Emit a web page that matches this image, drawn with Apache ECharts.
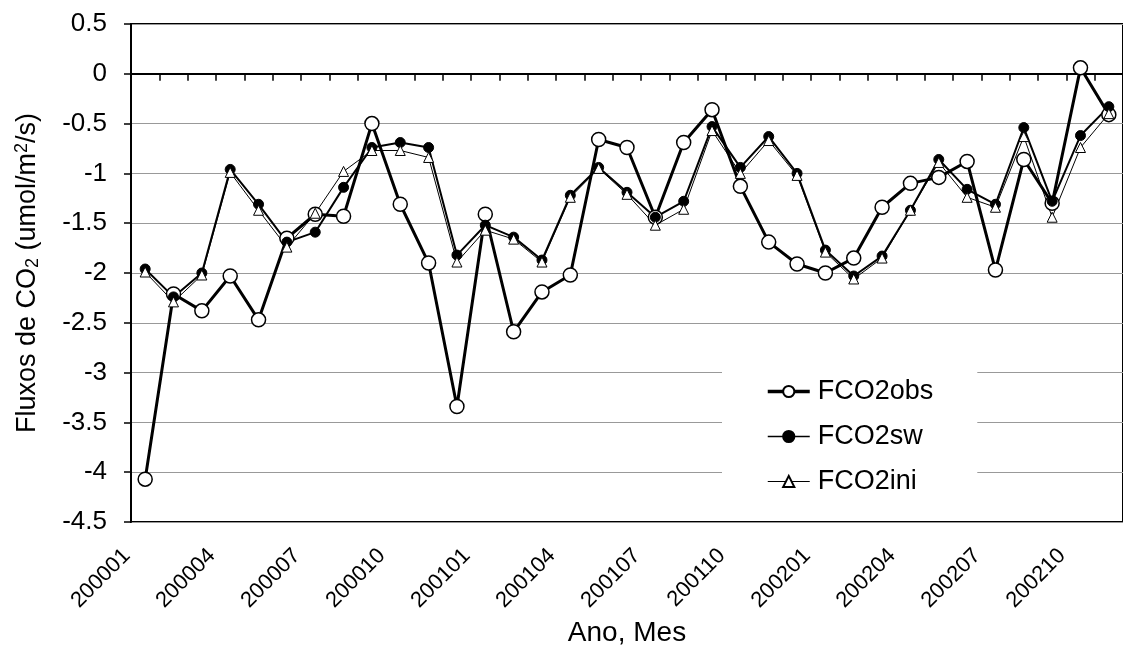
<!DOCTYPE html>
<html>
<head>
<meta charset="utf-8">
<script src="https://cdn.jsdelivr.net/npm/echarts@6/dist/echarts.min.js"></script>
<style>
html, body { margin: 0; padding: 0; background: #fff; }
#main { width: 1123px; height: 659px; }
</style>
</head>
<body>
<div id="main"></div>
<script>
var meses = ['200001','200002','200003','200004','200005','200006','200007','200008','200009','200010','200011','200012',
             '200101','200102','200103','200104','200105','200106','200107','200108','200109','200110','200111','200112',
             '200201','200202','200203','200204','200205','200206','200207','200208','200209','200210','200211'];

var fco2obs = [-4.07, -2.21, -2.38, -2.03, -2.47, -1.65, -1.41, -1.43, -0.50, -1.31, -1.90, -3.34,
               -1.41, -2.59, -2.19, -2.02, -0.66, -0.74, -1.44, -0.69, -0.36, -1.13, -1.69, -1.91,
               -2.00, -1.85, -1.34, -1.10, -1.04, -0.88, -1.97, -0.86, -1.30, 0.06, -0.41];

var fco2sw = [-1.96, -2.24, -2.00, -0.96, -1.31, -1.69, -1.59, -1.14, -0.74, -0.69, -0.74, -1.82,
              -1.52, -1.64, -1.87, -1.22, -0.94, -1.19, -1.44, -1.28, -0.53, -0.94, -0.63, -1.00,
              -1.77, -2.03, -1.83, -1.37, -0.86, -1.16, -1.31, -0.54, -1.28, -0.62, -0.33];

var fco2ini = [-1.99, -2.29, -2.02, -0.99, -1.37, -1.74, -1.40, -0.98, -0.77, -0.77, -0.84, -1.89,
               -1.57, -1.66, -1.89, -1.24, -0.95, -1.21, -1.52, -1.36, -0.57, -1.00, -0.67, -1.02,
               -1.79, -2.06, -1.85, -1.37, -0.89, -1.24, -1.34, -0.63, -1.44, -0.74, -0.40];

var fonte = 'Liberation Sans, Arial, sans-serif';

var myChart = echarts.init(document.getElementById('main'));

var option = {
    animation: false,
    backgroundColor: '#fff',
    grid: {
        left: 131,
        top: 24,
        bottom: 137,
        right: -10,
        show: true,
        borderColor: '#000',
        borderWidth: 2
    },
    legend: {
        orient: 'vertical',
        left: 722,
        top: 358,
        padding: [20, 44, 20, 44],
        backgroundColor: '#fff',
        itemWidth: 42,
        itemHeight: 14,
        itemGap: 18,
        textStyle: { fontFamily: fonte, fontSize: 27, color: '#000', padding: [0, 0, 0, 3] },
        data: [
            { name: 'FCO2obs', lineStyle: { color: '#000', width: 3.5 } },
            { name: 'FCO2sw', lineStyle: { color: '#000', width: 1.5 } },
            { name: 'FCO2ini', lineStyle: { color: '#000', width: 1 } }
        ]
    },
    xAxis: {
        type: 'category',
        data: meses,
        boundaryGap: true,
        name: 'Ano, Mes',
        nameLocation: 'middle',
        nameGap: 79,
        nameTextStyle: { fontFamily: fonte, fontSize: 28, color: '#000' },
        axisLine: { lineStyle: { color: '#000', width: 2 } },
        axisTick: { show: true, interval: 0, length: 7, lineStyle: { color: '#000', width: 1.5 } },
        axisLabel: {
            interval: 2,
            rotate: 45,
            margin: 12,
            padding: [0, 26, 0, 0],
            fontFamily: fonte,
            fontSize: 22,
            color: '#000'
        },
        splitLine: { show: false }
    },
    yAxis: {
        type: 'value',
        min: -4.5,
        max: 0.5,
        interval: 0.5,
        name: 'Fluxos de CO{sub|2} (umol/m{sup|2}/s)',
        nameLocation: 'middle',
        nameGap: 88,
        nameRotate: 90,
        nameTextStyle: {
            fontFamily: fonte, fontSize: 27, color: '#000',
            rich: {
                sub: { fontFamily: fonte, fontSize: 18, color: '#000', padding: [10, 0, 0, 0] },
                sup: { fontFamily: fonte, fontSize: 18, color: '#000', padding: [0, 0, 12, 0] }
            }
        },
        axisLine: { show: true, lineStyle: { color: '#000', width: 2 } },
        axisTick: { show: true, length: 7, lineStyle: { color: '#000', width: 1.5 } },
        axisLabel: { margin: 24, fontFamily: fonte, fontSize: 26, color: '#000' },
        splitLine: { show: true, lineStyle: { color: '#999', width: 1 } }
    },
    series: [
        {
            name: 'FCO2obs',
            type: 'line',
            data: fco2obs,
            symbol: 'circle',
            symbolSize: 14,
            showAllSymbol: true,
            lineStyle: { color: '#000', width: 3 },
            itemStyle: { color: '#fff', borderColor: '#000', borderWidth: 1.5 }
        },
        {
            name: 'FCO2sw',
            type: 'line',
            data: fco2sw,
            symbol: 'circle',
            symbolSize: 10,
            showAllSymbol: true,
            lineStyle: { color: '#000', width: 2 },
            itemStyle: { color: '#000', borderColor: '#000', borderWidth: 1 }
        },
        {
            name: 'FCO2ini',
            type: 'line',
            data: fco2ini,
            symbol: 'triangle',
            symbolSize: 10,
            showAllSymbol: true,
            lineStyle: { color: '#000', width: 1 },
            itemStyle: { color: '#fff', borderColor: '#000', borderWidth: 1 }
        }
    ]
};

myChart.setOption(option);
</script>
</body>
</html>
